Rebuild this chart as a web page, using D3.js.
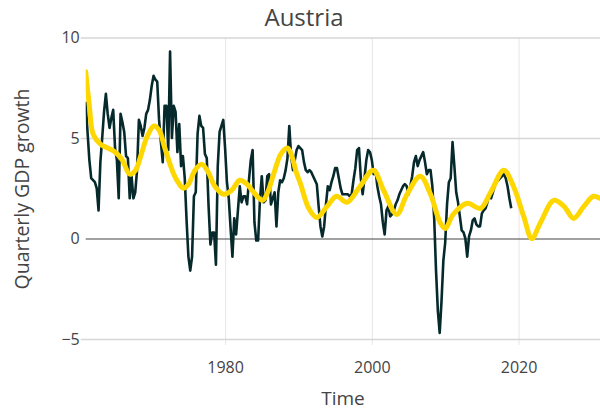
<!DOCTYPE html>
<html>
<head>
<meta charset="utf-8">
<script src="https://cdn.jsdelivr.net/npm/d3@7"></script>
<style>
  body { margin: 0; background: #fff; }
  text { font-family: "Open Sans", sans-serif; fill: #444; }
</style>
</head>
<body>
<svg id="chart" width="600" height="412"></svg>
<script>
// quarterly GDP growth, Austria, starting 1961 Q1
const startYear = 1961;
const gdpGrowth = [
  6.8, 5.3, 3.9, 3.0, 2.9, 2.8, 2.5, 1.4, 3.8, 5.0,
  6.3, 7.2, 6.2, 5.5, 6.0, 6.4, 4.5, 3.9, 2.0, 6.2,
  5.8, 5.3, 4.1, 4.0, 2.0, 3.1, 2.0, 2.3, 3.4, 5.9,
  5.6, 5.1, 5.5, 6.2, 6.4, 6.9, 7.6, 8.1, 7.9, 7.8,
  5.9, 4.8, 3.8, 6.6, 6.6, 4.4, 9.3, 5.0, 6.6, 6.3,
  4.3, 5.7, 3.6, 4.1, 3.0, 0.9, -0.9, -1.6, -0.9, 2.1,
  2.3, 5.2, 6.1, 5.6, 5.5, 4.2, 4.0, 1.6, -0.3, 0.3,
  0.3, -1.3, 3.6, 5.3, 5.6, 5.9, 4.5, 2.8, 2.0, 0.5,
  -0.9, 1.0, 0.2, 1.4, 2.6, 1.8, 2.1, 2.1, 1.7, 2.9,
  3.9, 4.4, 0.8, -0.1, -0.1, 1.9, 3.1, 1.8, 1.9, 3.1,
  3.2, 1.7, 2.0, 2.3, 0.6, 2.3, 2.9, 2.8, 3.0, 3.4,
  4.0, 5.6, 4.1, 3.4, 3.9, 4.4, 4.6, 4.5, 4.4, 3.8,
  3.4, 3.3, 3.4, 3.3, 3.1, 2.9, 2.7, 1.6, 0.6, 0.1,
  0.6, 1.7, 2.6, 2.4, 2.8, 3.1, 3.5, 3.5, 3.0, 2.5,
  2.2, 2.2, 2.2, 2.2, 2.1, 2.2, 2.9, 3.5, 4.4, 4.5,
  3.0, 2.2, 3.0, 3.9, 4.4, 4.3, 3.9, 3.2, 3.4, 2.6,
  2.1, 1.7, 0.8, 0.2, 1.4, 1.6, 1.1, 1.2, 1.4, 1.7,
  1.9, 2.2, 2.4, 2.6, 2.7, 2.6, 2.2, 2.6, 3.1, 3.8,
  4.1, 3.6, 3.9, 4.1, 4.3, 3.8, 3.2, 3.4, 3.4, 2.6,
  1.0, -1.6, -3.6, -4.7, -3.1, -1.1, -0.2, 1.7, 2.8, 3.0,
  4.8, 3.6, 2.3, 1.8, 1.1, 0.4, 0.3, 0.0, -0.9, 0.1,
  0.4, 0.9, 1.0, 0.7, 0.6, 0.6, 1.25, 1.4, 1.5, 1.8,
  2.2, 2.0, 2.3, 2.6, 2.8, 2.9, 3.0, 3.1, 3.2, 3.0,
  2.6, 2.0, 1.5
];

// smoothed trend + forecast
const trendYears = [
  1961.0, 1961.5, 1962.0, 1963.0, 1964.0, 1965.0, 1966.0, 1967.0, 1967.8, 1968.5,
  1969.4, 1970.3, 1971.0, 1971.7, 1972.4, 1973.0, 1973.6, 1974.3, 1975.0, 1975.9,
  1976.8, 1977.7, 1978.6, 1979.8, 1980.9, 1982.0, 1983.0, 1983.9, 1985.1, 1985.8,
  1986.7, 1987.6, 1988.5, 1989.0, 1989.7, 1990.3, 1991.4, 1992.5, 1993.9, 1995.2,
  1996.6, 1998.4, 2000.2, 2001.6, 2003.4, 2004.8, 2006.6, 2008.0, 2009.3, 2010.0,
  2011.1, 2013.0, 2014.8, 2016.2, 2018.0, 2019.3, 2020.7, 2021.8, 2023.0, 2024.8,
  2026.2, 2027.5, 2028.9, 2030.2, 2031.1
];
const trendValues = [
  8.3, 6.6, 5.2, 4.7, 4.5, 4.3, 3.9, 3.2, 3.4, 4.1,
  5.1, 5.6, 5.4, 4.6, 3.8, 3.2, 2.8, 2.5, 2.7, 3.4,
  3.7, 3.3, 2.6, 2.2, 2.4, 2.9, 2.7, 2.3, 1.9, 2.3,
  3.3, 4.2, 4.5, 4.2, 3.3, 2.7, 1.5, 1.05, 1.6, 2.1,
  1.8, 2.6, 3.4, 2.4, 1.2, 2.2, 3.1, 2.2, 0.8, 0.5,
  1.2, 1.75, 1.5, 2.3, 3.4, 2.6, 1.1, 0.0, 0.8, 1.9,
  1.6, 1.0, 1.6, 2.1, 2.0
];

const xTicks = [1980, 2000, 2020];
const yTicks = [-5, 0, 5, 10];

const svg = d3.select("#chart");
const plotLeft = 85.7, plotRight = 600, plotTop = 37.5, plotBottom = 339;

const x = d3.scaleLinear().domain([1961, 2031.1]).range([plotLeft, plotRight]);
const y = d3.scaleLinear().domain([-5, 10]).range([plotBottom, plotTop]);

// clip for the lines
svg.append("clipPath").attr("id", "plot")
  .append("rect").attr("x", plotLeft).attr("y", 20).attr("width", plotRight - plotLeft).attr("height", 340);

// vertical grid + x ticks
svg.append("g")
  .attr("transform", `translate(0, ${plotBottom + 6})`)
  .call(d3.axisBottom(x).tickValues(xTicks).tickSize(-(plotBottom + 6 - plotTop)).tickFormat(d3.format("d")))
  .call((g) => g.select(".domain").remove())
  .call((g) => g.selectAll("line").attr("stroke", "#e6e6e6").attr("stroke-width", 1))
  .call((g) => g.selectAll("text").attr("y", 17).style("font-size", "16px").style("fill", "#444"));

// horizontal grid + y ticks
svg.append("g")
  .attr("transform", `translate(${plotLeft - 5}, 0)`)
  .call(d3.axisLeft(y).tickValues(yTicks).tickSize(-(plotRight - plotLeft + 5)).tickFormat((d) => (d < 0 ? "\u2212" + -d : d)))
  .call((g) => g.select(".domain").remove())
  .call((g) => g.selectAll("line").attr("stroke", (d) => (d === 0 ? "#444" : "#d6d6d6")).attr("stroke-width", (d) => (d === 0 ? 1.2 : 1.5)))
  .call((g) => g.selectAll(".tick").filter((d) => d === 0).select("line").attr("x1", 5))
  .call((g) => g.selectAll("text").attr("x", -1).style("font-size", "16px").style("fill", "#444"));

const plot = svg.append("g").attr("clip-path", "url(#plot)");

// actual series
plot.append("path")
  .datum(gdpGrowth)
  .attr("fill", "none")
  .attr("stroke", "#062a2c")
  .attr("stroke-width", 2.6)
  .attr("stroke-linejoin", "round")
  .attr("d", d3.line().x((d, i) => x(startYear + i / 4)).y((d) => y(d)));

// trend series
plot.append("path")
  .datum(trendValues)
  .attr("fill", "none")
  .attr("stroke", "#ffd700")
  .attr("stroke-width", 5)
  .attr("stroke-linecap", "round")
  .attr("d", d3.line().curve(d3.curveCatmullRom).x((d, i) => x(trendYears[i])).y((d) => y(d)));

// titles
svg.append("text").attr("x", 304).attr("y", 26).attr("text-anchor", "middle")
  .style("font-size", "24px").text("Austria");
svg.append("text").attr("x", 343).attr("y", 405).attr("text-anchor", "middle")
  .style("font-size", "19px").text("Time");
svg.append("text").attr("transform", "translate(29, 189) rotate(-90)").attr("text-anchor", "middle")
  .style("font-size", "19.5px").text("Quarterly GDP growth");
</script>
</body>
</html>
